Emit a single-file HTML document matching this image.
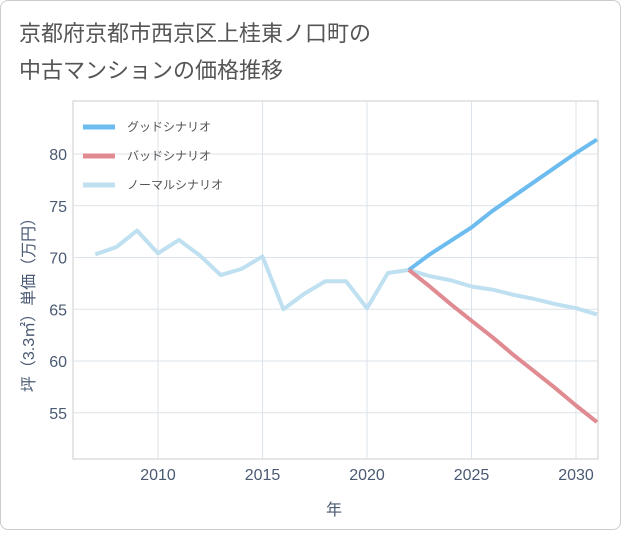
<!DOCTYPE html>
<html><head><meta charset="utf-8"><style>
body{margin:0;background:#fff;font-family:"Liberation Sans","Noto Sans CJK JP",sans-serif;}
#card{position:absolute;left:0;top:0;width:619px;height:528px;border:1px solid #ccc;border-radius:8px;background:#fff;}
</style></head><body>
<div id="card">
<svg id="chart" width="621" height="530">
<text x="18" y="40" font-size="22" fill="#555">京都府京都市西京区上桂東ノ口町の</text>
<text x="18" y="77" font-size="22" fill="#555">中古マンションの価格推移</text>
<g id="grid"></g><g id="axes"></g><g id="series"></g><g id="legend"></g>
<text x="333" y="514" font-size="16" fill="#4a5a72" text-anchor="middle">年</text>
<text transform="translate(33,300) rotate(-90)" font-size="16" fill="#4a5a72" text-anchor="middle">坪（3.3㎡）単価（万円）</text>
</svg></div>
<script>
const years=[2007,2008,2009,2010,2011,2012,2013,2014,2015,2016,2017,2018,2019,2020,2021,2022,2023,2024,2025,2026,2027,2028,2029,2030,2031];
const normal=[70.3,71.0,72.6,70.4,71.7,70.2,68.3,68.9,70.1,65.0,66.5,67.7,67.7,65.1,68.5,68.8,68.2,67.8,67.2,66.9,66.4,66.0,65.5,65.1,64.5];
const goodYears=[2022,2023,2024,2025,2026,2027,2028,2029,2030,2031];
const good=[68.8,70.3,71.6,72.9,74.5,75.9,77.3,78.7,80.1,81.4];
const bad=[68.8,67.2,65.5,63.9,62.3,60.6,59.0,57.4,55.7,54.1];
const xTicks=[2010,2015,2020,2025,2030];
const yTicks=[55,60,65,70,75,80];
const L=72,R=597,T=100,B=458;
const xs=y=>157+(y-2010)*20.9;
const ys=v=>153+(80-v)*10.35;
const NS="http://www.w3.org/2000/svg";
function mk(t,a,p){const e=document.createElementNS(NS,t);for(const k in a)e.setAttribute(k,a[k]);p.appendChild(e);return e;}
const grid=document.getElementById('grid'),axes=document.getElementById('axes'),series=document.getElementById('series'),leg=document.getElementById('legend');
mk('rect',{x:L,y:T,width:R-L,height:B-T,fill:'none',stroke:'#ccc'},grid);
xTicks.forEach(t=>{const l=mk('line',{x1:xs(t),x2:xs(t),y1:T,y2:B,stroke:'#dde3ea'},grid);

const tx=mk('text',{x:xs(t),y:479,'font-size':16,fill:'#4a5a72','text-anchor':'middle'},axes);tx.textContent=t;
});
yTicks.forEach(t=>{const l=mk('line',{x1:L,x2:R,y1:ys(t),y2:ys(t),stroke:'#dde3ea'},grid);

const tx=mk('text',{x:66,y:ys(t)+6,'font-size':16,fill:'#4a5a72','text-anchor':'end'},axes);tx.textContent=t;
});
function line(xv,yv,color,name){const p=mk('polyline',{points:xv.map((x,i)=>xs(x)+','+ys(yv[i])).join(' '),fill:'none',stroke:color,'stroke-width':4,'stroke-linejoin':'round'},series);
}
line(years,normal,'#bfe0f0','normal-scenario-line');
line(goodYears,good,'#6dbcf0','good-scenario-line');
line(goodYears,bad,'#e08a92','bad-scenario-line');
const lg=[['グッドシナリオ','#6dbcf0'],['バッドシナリオ','#e08a92'],['ノーマルシナリオ','#bfe0f0']];
lg.forEach((d,i)=>{const y=126+i*29;
const l=mk('line',{x1:82,x2:114,y1:y,y2:y,stroke:d[1],'stroke-width':5},leg);

const t=mk('text',{x:126,y:y+4,'font-size':12,fill:'#555'},leg);t.textContent=d[0];
});
</script>
</body></html>
